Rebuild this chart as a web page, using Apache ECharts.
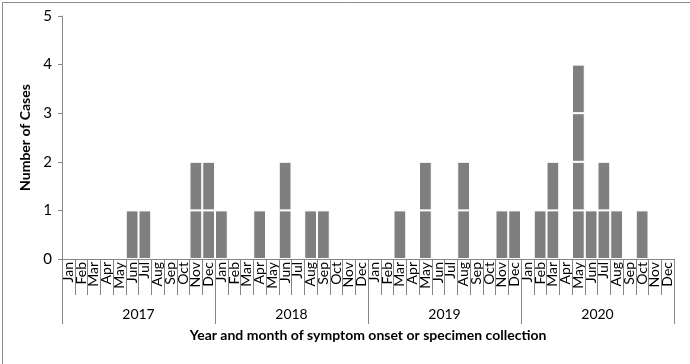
<!DOCTYPE html>
<html>
<head>
<meta charset="utf-8">
<script src="https://cdn.jsdelivr.net/npm/echarts@6/dist/echarts.min.js"></script>
<style>
html,body{margin:0;padding:0;background:#fff;}
#c{width:690px;height:364px;}
</style>
</head>
<body>
<div id="c"></div>
<script>
const years = ['2017', '2018', '2019', '2020'];
const months = ['Jan','Feb','Mar','Apr','May','Jun','Jul','Aug','Sep','Oct','Nov','Dec'];
const cases2017 = [0,0,0,0,0,1,1,0,0,0,2,2];
const cases2018 = [1,0,0,1,0,2,0,1,1,0,0,0];
const cases2019 = [0,0,1,0,2,0,0,2,0,0,1,1];
const cases2020 = [0,1,2,0,4,1,2,1,0,1,0,0];
const yTicks = [0,1,2,3,4,5];

const counts = [].concat(cases2017, cases2018, cases2019, cases2020);
const categories = [];
years.forEach(y => months.forEach(m => categories.push(y + '-' + m)));
const maxCount = Math.max.apply(null, counts);

const FONT = 'Lato';
const AX = '#868686';

const series = [];
for (let k = 1; k <= maxCount; k++) {
  series.push({
    type: 'bar',
    stack: 'cases',
    xAxisIndex: 0,
    barCategoryGap: '0%',
    data: counts.map(c => (c >= k ? 1 : null)),
    itemStyle: { color: '#7f7f7f', borderColor: '#ffffff', borderWidth: 1 },
    silent: true
  });
}

const chart = echarts.init(document.getElementById('c'), null, { renderer: 'canvas' });
chart.setOption({
  animation: false,
  backgroundColor: '#fff',
  textStyle: { fontFamily: FONT },
  graphic: [{
    type: 'rect', left: 0, top: 0,
    shape: { x: 0.5, y: 0.5, width: 689, height: 363 },
    style: { fill: 'none', stroke: '#8c8c8c', lineWidth: 1 },
    silent: true
  }],
  grid: { left: 62, right: 16, top: 16, bottom: 105 },
  xAxis: [{
    type: 'category',
    data: categories,
    position: 'bottom',
    axisLine: { show: true, lineStyle: { color: AX, width: 1 } },
    axisTick: { show: true, interval: 0, length: 36, alignWithLabel: false, lineStyle: { color: AX } },
    axisLabel: {
      interval: 0, rotate: 90, margin: 3,
      formatter: v => v.split('-')[1],
      color: '#000', fontSize: 14, fontFamily: FONT
    },
    splitLine: { show: false }
  }, {
    type: 'category',
    data: years,
    position: 'bottom',
    axisLine: { show: false },
    axisTick: { show: true, interval: 0, length: 65, alignWithLabel: false, lineStyle: { color: AX } },
    axisLabel: { interval: 0, margin: 48, color: '#000', fontSize: 14, fontFamily: FONT },
    name: 'Year and month of symptom onset or specimen collection',
    nameLocation: 'middle',
    nameGap: 69,
    nameTextStyle: { color: '#000', fontSize: 14, fontWeight: 'bold', fontFamily: FONT }
  }],
  yAxis: {
    type: 'value',
    min: 0, max: 5, interval: 1,
    data: yTicks,
    axisLine: { show: true, lineStyle: { color: AX } },
    axisTick: { show: true, length: 4, lineStyle: { color: AX } },
    axisLabel: { color: '#000', fontSize: 15, margin: 10, fontFamily: FONT },
    splitLine: { show: false },
    name: 'Number of Cases',
    nameLocation: 'middle',
    nameGap: 26,
    nameRotate: 90,
    nameTextStyle: { color: '#000', fontSize: 14, fontWeight: 'bold', fontFamily: FONT }
  },
  series: series
});
</script>
</body>
</html>
